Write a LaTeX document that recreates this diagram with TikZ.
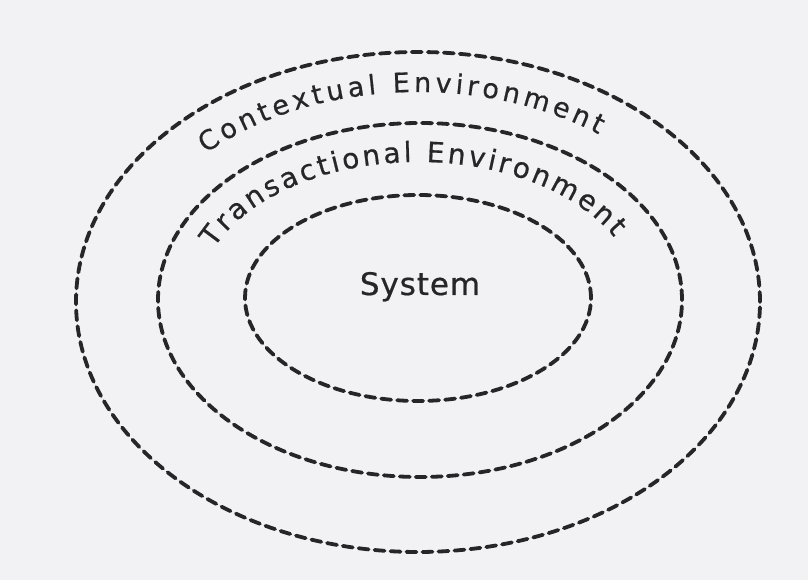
\documentclass[tikz,border=0pt]{standalone}
\usepackage{fontspec}
\newfontfamily\handfont[FakeBold=0.6]{DejaVu Sans}
\usetikzlibrary{shapes.geometric,decorations.text}
\definecolor{bgcol}{RGB}{242,242,244}
\definecolor{inkcol}{RGB}{38,38,40}
\tikzset{
  ring/.style={draw=inkcol, ellipse, line width=3.8pt, dash pattern=on 10pt off 6pt, line cap=round, inner sep=0pt},
  archtext/.style={decorate, decoration={text along path, text align=fit to path, text color=inkcol}}
}
\begin{document}
\begin{tikzpicture}[x=1pt,y=1pt]
  \fill[bgcol] (0,0) rectangle (808,580);
  \useasboundingbox (0,0) rectangle (808,580);
  \node[ring, minimum width=684pt, minimum height=500pt] (outer) at (418,278) {};
  \node[ring, minimum width=524pt, minimum height=354pt] (middle) at (420,280) {};
  \node[ring, minimum width=346pt, minimum height=206pt] (inner) at (418,282) {};
  \node[text=inkcol, anchor=base, font=\handfont\fontsize{31}{36}\selectfont\addfontfeatures{LetterSpace=3}] (system) at (420,285) {System};
  \path[archtext, decoration={text={|\handfont\fontsize{27}{31}\selectfont|Contextual Environment}}]
    (418,278) ++(135:300 and 210) arc[start angle=135, end angle=53, x radius=300, y radius=210];
  \path[archtext, decoration={text={|\handfont\fontsize{28}{32}\selectfont|Transactional Environment}}]
    (418,280) ++(158:220 and 138) arc[start angle=158, end angle=27, x radius=220, y radius=138];
\end{tikzpicture}
\end{document}
